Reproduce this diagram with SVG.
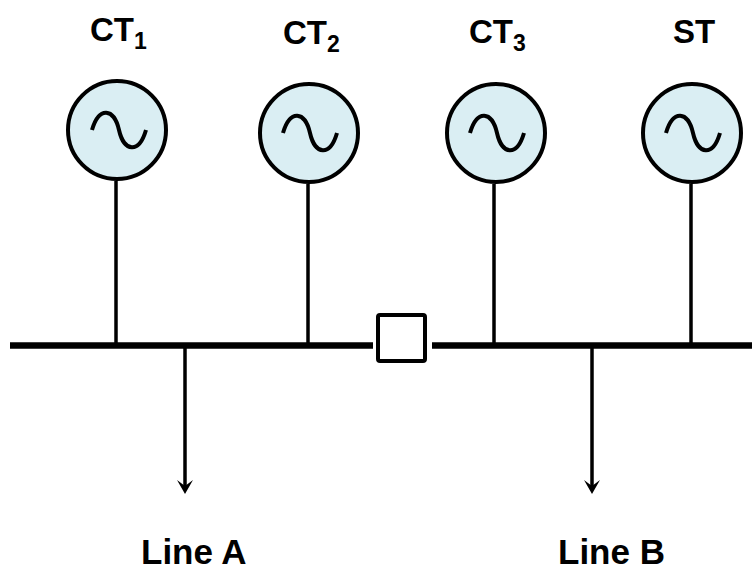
<svg xmlns="http://www.w3.org/2000/svg" width="752" height="570" viewBox="0 0 752 570">
<style>
.lbl{font-family:"Liberation Sans",Arial,sans-serif;font-weight:bold;font-size:33px;fill:#000}
.sub{font-size:23px}
.big{font-size:35px}
.gen{fill:#DAEEF3;stroke:#000;stroke-width:4}
.wave{fill:none;stroke:#000;stroke-width:4;stroke-linecap:butt}
.stem{stroke:#000;stroke-width:3.5}
.bus{stroke:#000;stroke-width:6.5}
.feed{stroke:#000;stroke-width:3.5;fill:none}
</style>
<defs>
<path id="wv" class="wave" d="M-27,0 C-20,-24 -5,-22 0,0 S20,24 27,0"/>
</defs>
<rect width="752" height="570" fill="#fff"/>
<g id="connectors">
<line class="bus" x1="10" y1="345.5" x2="373" y2="345.5"/>
<line class="bus" x1="432" y1="345.5" x2="752" y2="345.5"/>
<line class="stem" x1="116" y1="181" x2="116" y2="343"/>
<line class="stem" x1="308" y1="184" x2="308" y2="343"/>
<line class="stem" x1="494" y1="184" x2="494" y2="343"/>
<line class="stem" x1="691" y1="184" x2="691" y2="343"/>
<line class="feed" x1="185" y1="348" x2="185" y2="488"/>
<path d="M185,494 L177,480 L185,486 L193,480 Z" fill="#000"/>
<line class="feed" x1="592" y1="348" x2="592" y2="488"/>
<path d="M592,494 L584,480 L592,486 L600,480 Z" fill="#000"/>
</g>
<g id="breaker">
<rect x="378" y="315" width="47" height="46" rx="2" fill="#fff" stroke="#000" stroke-width="4"/>
</g>
<g id="CT1">
<circle class="gen" cx="117" cy="130" r="49"/>
<use href="#wv" x="119" y="130"/>
<text class="lbl" x="90" y="41">CT<tspan class="sub" dy="8">1</tspan></text>
</g>
<g id="CT2">
<circle class="gen" cx="309" cy="133" r="49"/>
<use href="#wv" x="310" y="133"/>
<text class="lbl" x="283" y="44">CT<tspan class="sub" dy="8">2</tspan></text>
</g>
<g id="CT3">
<circle class="gen" cx="496" cy="133" r="49"/>
<use href="#wv" x="497" y="133"/>
<text class="lbl" x="469" y="43">CT<tspan class="sub" dy="8">3</tspan></text>
</g>
<g id="ST">
<circle class="gen" cx="692" cy="133" r="49"/>
<use href="#wv" x="693" y="133"/>
<text class="lbl" x="673" y="43">ST</text>
</g>
<g id="LineA">
<text class="lbl big" x="141" y="564">Line A</text>
</g>
<g id="LineB">
<text class="lbl big" x="558" y="564">Line B</text>
</g>
</svg>
